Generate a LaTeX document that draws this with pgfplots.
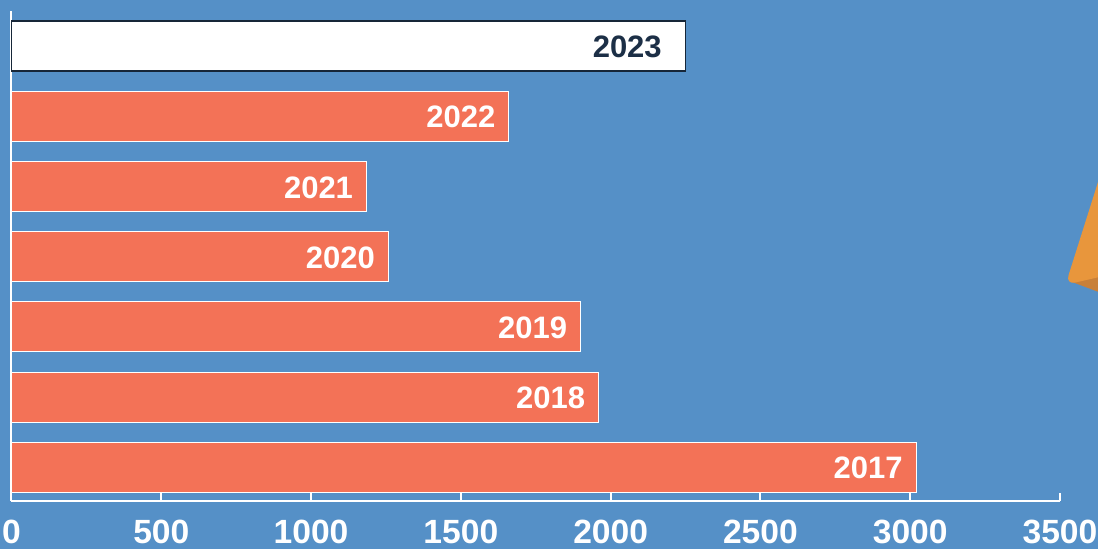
\documentclass[border=0pt]{standalone}
\usepackage{pgfplots}
\pgfplotsset{compat=1.18}
\usepackage{fontspec}
\setmainfont{Liberation Sans}
\definecolor{bg}{RGB}{85,144,199}
\definecolor{coral}{RGB}{243,114,87}
\definecolor{navy}{RGB}{28,47,70}
\definecolor{orng}{RGB}{232,150,60}
\definecolor{orngd}{RGB}{200,128,58}
\begin{document}
\begin{tikzpicture}
\fill[bg] (0pt,0pt) rectangle (549pt,274.5pt);
\path[use as bounding box] (0pt,0pt) rectangle (549pt,274.5pt);
\begin{axis}[
 at={(5.75pt,24pt)}, anchor=south west,
 scale only axis, width=524.25pt, height=245pt,
 xmin=0, xmax=3500, ymin=-0.48, ymax=6.5,
 xbar, bar width=25pt, bar shift=0pt,
 axis x line=bottom, axis y line=left,
 axis line style={white, line width=1pt, -},
 xtick={0,500,...,3500}, ytick=\empty,
 tick align=inside, major tick length=4pt,
 tick style={white, line width=1pt},
 xticklabel style={font=\bfseries\fontsize{16.8}{17}\selectfont, text=white, anchor=north, inner sep=0pt, yshift=-9.5pt},
 /pgf/number format/assume math mode=true,
 /pgf/number format/1000 sep={},
 point meta=explicit symbolic,
 nodes near coords={\pgfplotspointmeta},
 nodes near coords style={anchor=east, font=\bfseries\fontsize{15.5}{16}\selectfont, text=white, inner sep=0pt, yshift=-0.5pt},
 clip=false,
]
\addplot[fill=coral, draw=white, line width=0.5pt, nodes near coords style={xshift=-6.5pt}] coordinates {(3020,0)[2017] (1960,1)[2018] (1900,2)[2019] (1258,3)[2020] (1185,4)[2021] (1660,5)[2022]};
\addplot[fill=white, draw=navy!80!black, line width=0.8pt, nodes near coords style={xshift=-11.5pt, text=navy}] coordinates {(2250,6)[2023]};
\end{axis}
\fill[orngd] (536pt,133.5pt) -- (556pt,138.5pt) -- (556pt,126pt) -- cycle;
\fill[orng, rounded corners=5pt] (562pt,224.5pt) -- (532.75pt,132.1pt) -- (565pt,139.5pt) -- cycle;
\end{tikzpicture}
\end{document}
